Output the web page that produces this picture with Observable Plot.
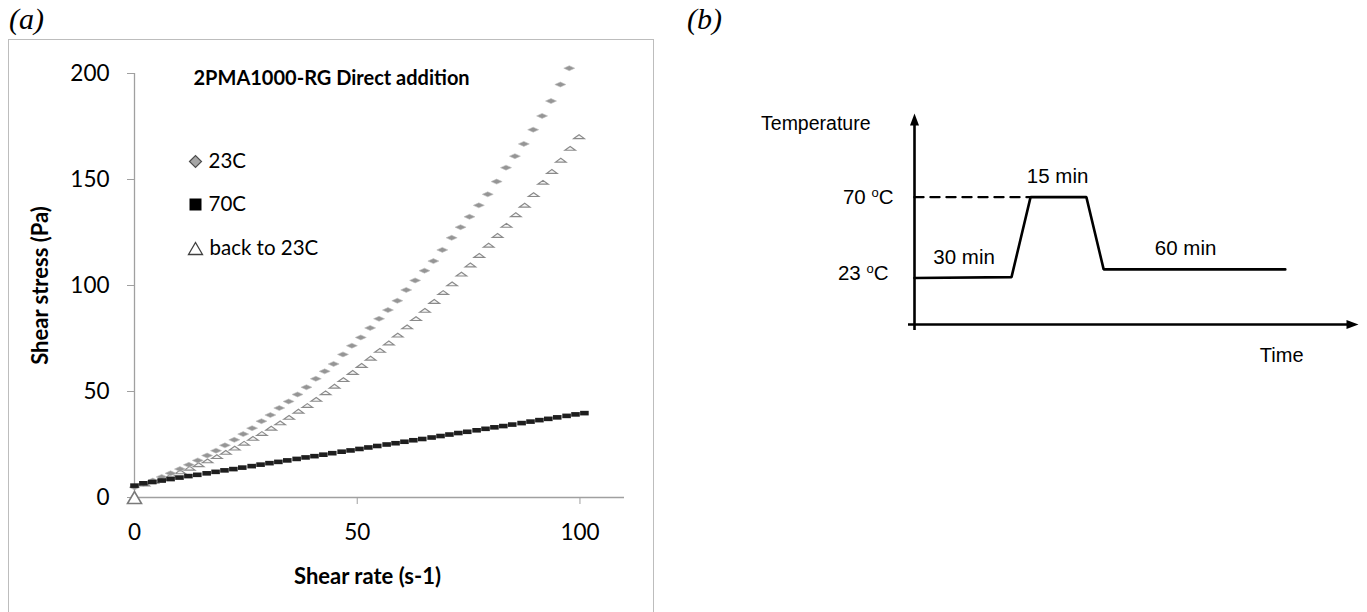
<!DOCTYPE html>
<html>
<head>
<meta charset="utf-8">
<script src="https://cdn.jsdelivr.net/npm/d3@7"></script>
<script src="https://cdn.jsdelivr.net/npm/@observablehq/plot@0.6"></script>
<style>
  html, body { margin: 0; padding: 0; background: #fff; }
  #page { position: relative; width: 1367px; height: 612px; overflow: hidden; background: #fff; }
  .panel-label { position: absolute; font-family: "Liberation Serif", serif; font-style: italic; font-size: 30px; line-height: 1; color: #000; }
  #boxA { position: absolute; left: 8px; top: 39px; width: 646px; height: 640px; border: 1.5px solid #bdbdbd; box-sizing: border-box; }
  #plotA, #plotB { position: absolute; top: 0; }
  #plotA { left: 0; }
  #plotB { left: 680px; }
</style>
</head>
<body>
<div id="page">
  <div class="panel-label" style="left:9px; top:4px;">(a)</div>
  <div class="panel-label" style="left:687px; top:4px;">(b)</div>
  <div id="boxA"></div>
  <div id="plotA"></div>
  <div id="plotB"></div>
</div>
<script>
// ---------- Panel (a) data ----------
const chartTitle = "2PMA1000-RG Direct addition";
const xLabel = "Shear rate (s-1)";
const yLabel = "Shear stress (Pa)";
const xTicks = [0, 50, 100];
const yTicks = [0, 50, 100, 150, 200];
const xDomain = [0, 110];
const yDomain = [0, 200];
const legendLabels = ["23C", "70C", "back to 23C"];

// 23C (grey diamonds)
const shearRate23 = [0.0, 2.0, 4.1, 6.1, 8.1, 10.2, 12.2, 14.2, 16.3, 18.3, 20.3, 22.4, 24.4, 26.4, 28.5, 30.5, 32.5, 34.6, 36.6, 38.6, 40.7, 42.7, 44.7, 46.8, 48.8, 50.8, 52.9, 54.9, 56.9, 59.0, 61.0, 63.0, 65.1, 67.1, 69.1, 71.2, 73.2, 75.2, 77.3, 79.3, 81.3, 83.4, 85.4, 87.4, 89.5, 91.5, 93.5, 95.6, 97.6];
const stress23 = [4.8, 6.4, 8.0, 9.7, 11.4, 13.4, 15.4, 17.5, 19.8, 22.1, 24.6, 27.2, 29.9, 32.7, 36.0, 38.9, 42.2, 45.3, 48.6, 52.0, 56.0, 59.5, 63.0, 67.5, 71.6, 75.5, 80.0, 84.3, 88.4, 92.8, 97.9, 102.4, 107.0, 111.5, 116.8, 122.5, 127.5, 132.4, 137.8, 143.0, 149.0, 155.6, 161.0, 166.8, 173.5, 180.0, 187.0, 194.8, 202.5];

// 70C (black squares)
const shearRate70 = [0.0, 2.0, 4.0, 6.1, 8.1, 10.1, 12.1, 14.1, 16.2, 18.2, 20.2, 22.2, 24.2, 26.3, 28.3, 30.3, 32.3, 34.3, 36.4, 38.4, 40.4, 42.4, 44.4, 46.5, 48.5, 50.5, 52.5, 54.5, 56.6, 58.6, 60.6, 62.6, 64.6, 66.7, 68.7, 70.7, 72.7, 74.7, 76.8, 78.8, 80.8, 82.8, 84.8, 86.9, 88.9, 90.9, 92.9, 94.9, 97.0, 99.0, 101.0];
const stress70 = [5.6, 6.7, 7.3, 8.0, 8.7, 9.4, 10.1, 10.7, 11.4, 12.1, 12.8, 13.4, 14.1, 14.8, 15.5, 16.2, 16.8, 17.5, 18.2, 18.9, 19.5, 20.2, 20.9, 21.6, 22.2, 22.9, 23.6, 24.3, 25.0, 25.6, 26.3, 27.0, 27.6, 28.3, 29.0, 29.7, 30.4, 31.0, 31.7, 32.4, 33.1, 33.7, 34.4, 35.1, 35.8, 36.5, 37.1, 37.8, 38.5, 39.2, 39.8];

// back to 23C (open triangles)
const shearRateBack = [0.0, 2.2, 4.2, 6.3, 8.3, 10.3, 12.4, 14.4, 16.4, 18.5, 20.5, 22.5, 24.6, 26.6, 28.6, 30.7, 32.7, 34.7, 36.8, 38.8, 40.8, 42.9, 44.9, 46.9, 49.0, 51.0, 53.0, 55.1, 57.1, 59.1, 61.2, 63.2, 65.2, 67.3, 69.3, 71.3, 73.4, 75.4, 77.4, 79.5, 81.5, 83.5, 85.6, 87.6, 89.6, 91.7, 93.7, 95.7, 97.8, 99.8];
const stressBack = [0.0, 6.3, 7.6, 9.0, 10.4, 12.0, 13.7, 15.4, 17.2, 19.2, 21.2, 23.2, 25.5, 27.8, 30.1, 32.6, 35.1, 37.7, 40.6, 43.3, 46.2, 49.3, 52.4, 55.5, 58.9, 62.2, 65.6, 69.3, 72.8, 76.5, 80.4, 84.3, 88.2, 92.4, 96.6, 100.7, 105.3, 109.6, 114.1, 118.9, 123.5, 128.3, 133.3, 137.8, 142.8, 148.6, 153.7, 159.0, 164.6, 170.1];

// ---------- Panel (b) data ----------
const timeDomain = [0, 100];
const tempDomain = [-4, 118];
const profileTime = [0, 21.9, 26.2, 38.8, 42.7, 83.7];
const profileTemp = [23, 23.5, 70, 70, 28, 28];
const dashTime = [0, 26.2];
const dashTemp = [70, 70];
const tempLevels = [70, 23];
const tempLevelLabels = ["70 oC", "23 oC"];
const durationLabels = ["30 min", "15 min", "60 min"];
const durationTime = [11.2, 32.3, 61.2];
const durationTemp = [23, 70, 28];
const axisTitleY = "Temperature";
const axisTitleX = "Time";

// ---------- custom marker shapes ----------
const flatDiamond = {draw(ctx) { ctx.moveTo(-5.5, 0); ctx.lineTo(0, -2.5); ctx.lineTo(5.5, 0); ctx.lineTo(0, 2.5); ctx.closePath(); }};
const flatSquare = {draw(ctx) { ctx.rect(-4.3, -2.3, 8.6, 4.6); }};
const flatTriangle = {draw(ctx) { ctx.moveTo(-5.3, 1.7); ctx.lineTo(0, -2.1); ctx.lineTo(5.3, 1.7); ctx.closePath(); }};
const legendDiamond = {draw(ctx) { ctx.moveTo(-6, 0); ctx.lineTo(0, -6); ctx.lineTo(6, 0); ctx.lineTo(0, 6); ctx.closePath(); }};
const legendSquare = {draw(ctx) { ctx.rect(-6, -6, 12, 12); }};
const legendTriangle = {draw(ctx) { ctx.moveTo(-7, 6); ctx.lineTo(0, -6); ctx.lineTo(7, 6); ctx.closePath(); }};
const arrowUp = {draw(ctx) { ctx.moveTo(-4.5, 5); ctx.lineTo(0, -7); ctx.lineTo(4.5, 5); ctx.closePath(); }};
const arrowRight = {draw(ctx) { ctx.moveTo(-5, -4.5); ctx.lineTo(7, 0); ctx.lineTo(-5, 4.5); ctx.closePath(); }};

const d23 = shearRate23.map((x, i) => ({x, y: stress23[i]}));
const d70 = shearRate70.map((x, i) => ({x, y: stress70[i]}));
const dBack = shearRateBack.map((x, i) => ({x, y: stressBack[i]}));

const fontA = "Lato, 'Open Sans', sans-serif";
const axisGray = "#a0a0a0";

const plotA = Plot.plot({
  width: 660,
  height: 612,
  marginLeft: 134,
  marginRight: 36,
  marginTop: 73,
  marginBottom: 115,
  style: {fontFamily: fontA, background: "transparent", overflow: "visible"},
  x: {domain: xDomain},
  y: {domain: yDomain},
  marks: [
    Plot.ruleX([0], {stroke: axisGray, strokeWidth: 1.3}),
    Plot.ruleY([0], {stroke: axisGray, strokeWidth: 1.3}),
    Plot.axisX({ticks: xTicks, tickSize: 7, tickPadding: 20, stroke: axisGray, fontSize: 22.5, fill: "#000", label: null, tickFormat: d => d}),
    Plot.axisY({ticks: yTicks, tickSize: 7, tickPadding: 18, stroke: axisGray, fontSize: 22.5, fill: "#000", label: null, tickFormat: d => d}),
    Plot.dot(dBack.slice(1), {x: "x", y: "y", symbol: flatTriangle, r: 4, fill: "#f4f4f4", stroke: "#8a8a8a", strokeWidth: 1.15}),
    Plot.dot(d23, {x: "x", y: "y", symbol: flatDiamond, r: 4, fill: "#959595", stroke: "#bdbdbd", strokeWidth: 0.6}),
    Plot.dot(d70, {x: "x", y: "y", symbol: flatSquare, r: 4, fill: "#1e1e1e", stroke: "none"}),
    Plot.dot(dBack.slice(0, 1), {x: "x", y: "y", symbol: legendTriangle, r: 6, fill: "#fff", stroke: "#7a7a7a", strokeWidth: 1.6}),
    // title
    Plot.text([chartTitle], {frameAnchor: "top-left", dx: 59, dy: 5, textAnchor: "start", lineAnchor: "middle", fontSize: 20, fontWeight: "bold", fill: "#000"}),
    // legend
    Plot.dot([legendLabels[0]], {frameAnchor: "top-left", dx: 61, dy: 88, symbol: legendDiamond, r: 6, fill: "#a6a6a6", stroke: "#4d4d4d", strokeWidth: 1.2}),
    Plot.dot([legendLabels[1]], {frameAnchor: "top-left", dx: 61, dy: 131, symbol: legendSquare, r: 6, fill: "#000", stroke: "none"}),
    Plot.dot([legendLabels[2]], {frameAnchor: "top-left", dx: 61, dy: 175, symbol: legendTriangle, r: 6, fill: "#fff", stroke: "#404040", strokeWidth: 1.3}),
    Plot.text([legendLabels[0]], {frameAnchor: "top-left", dx: 74, dy: 88, text: d => d, textAnchor: "start", lineAnchor: "middle", fontSize: 20.5, fill: "#000"}),
    Plot.text([legendLabels[1]], {frameAnchor: "top-left", dx: 74, dy: 131, text: d => d, textAnchor: "start", lineAnchor: "middle", fontSize: 20.5, fill: "#000"}),
    Plot.text([legendLabels[2]], {frameAnchor: "top-left", dx: 75, dy: 175, text: d => d, textAnchor: "start", lineAnchor: "middle", fontSize: 20.5, fill: "#000"}),
    // axis titles
    Plot.text([xLabel], {frameAnchor: "bottom", dx: -12, dy: 79, textAnchor: "middle", lineAnchor: "middle", fontSize: 22, fontWeight: "bold", fill: "#000"}),
    Plot.text([yLabel], {frameAnchor: "left", dx: -94, rotate: -90, textAnchor: "middle", lineAnchor: "middle", fontSize: 22, fontWeight: "bold", fill: "#000"})
  ]
});
document.getElementById("plotA").append(plotA);

const fontB = "'Liberation Sans', Arial, sans-serif";
const plotB = Plot.plot({
  width: 687,
  height: 612,
  marginLeft: 234,
  marginRight: 10,
  marginTop: 114,
  marginBottom: 288,
  style: {fontFamily: fontB, background: "transparent", overflow: "visible"},
  x: {domain: timeDomain, axis: null},
  y: {domain: tempDomain, axis: null},
  marks: [
    Plot.ruleX([timeDomain[0]], {y1: tempDomain[0], y2: tempDomain[1], stroke: "#000", strokeWidth: 2.6, dy: 6}),
    Plot.ruleY([tempDomain[0]], {x1: timeDomain[0], x2: timeDomain[1], stroke: "#000", strokeWidth: 2.6, dx: -6}),
    Plot.dot([0], {x: timeDomain[0], y: tempDomain[1], symbol: arrowUp, r: 5, fill: "#000", stroke: "none", dy: 6}),
    Plot.dot([0], {x: timeDomain[1], y: tempDomain[0], symbol: arrowRight, r: 5, fill: "#000", stroke: "none", dx: -6}),
    Plot.line(dashTime.map((t, i) => ({t, v: dashTemp[i]})), {x: "t", y: "v", stroke: "#000", strokeWidth: 2.4, strokeDasharray: "9,7"}),
    Plot.line(profileTime.map((t, i) => ({t, v: profileTemp[i]})), {x: "t", y: "v", stroke: "#000", strokeWidth: 2.6, strokeLinejoin: "miter"}),
    Plot.text(tempLevels, {x: () => timeDomain[0], y: d => d, text: (d, i) => tempLevelLabels[i], dx: -21, textAnchor: "end", lineAnchor: "middle", fontSize: 20.5, fill: "#000"}),
    Plot.text(durationLabels, {x: (d, i) => durationTime[i], y: (d, i) => durationTemp[i], text: d => d, dy: -21, textAnchor: "middle", lineAnchor: "middle", fontSize: 20.5, fill: "#000"}),
    Plot.text([axisTitleY], {frameAnchor: "top-left", dx: -44, dy: 9, textAnchor: "end", lineAnchor: "middle", fontSize: 19.5, fill: "#000"}),
    Plot.text([axisTitleX], {frameAnchor: "bottom-right", dx: -54, dy: 31, textAnchor: "end", lineAnchor: "middle", fontSize: 20, fill: "#000"})
  ]
});
// superscript "o" in the temperature labels; 23 oC sits a little above its line
for (const t of plotB.querySelectorAll("text")) {
  const m = t.textContent.match(/^(\d+) oC$/);
  if (m) {
    const ns = "http://www.w3.org/2000/svg";
    t.textContent = m[1] + " ";
    const sup = document.createElementNS(ns, "tspan");
    sup.setAttribute("dy", "-7");
    sup.setAttribute("font-size", "13");
    sup.textContent = "o";
    const c = document.createElementNS(ns, "tspan");
    c.setAttribute("dy", "7");
    c.textContent = "C";
    t.append(sup, c);
    if (m[1] === "23") {
      const tr = t.getAttribute("transform") || "";
      t.setAttribute("transform", tr + " translate(-5,-5)");
    }
  }
}
document.getElementById("plotB").append(plotB);
</script>
</body>
</html>
